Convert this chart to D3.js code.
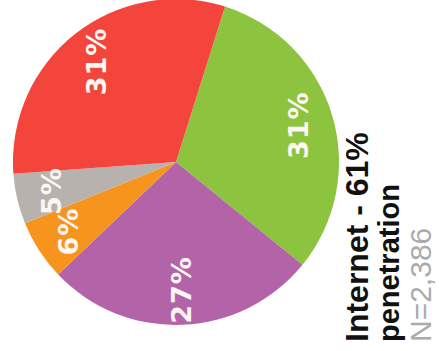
<!DOCTYPE html>
<html>
<head>
<meta charset="utf-8">
<script src="https://cdn.jsdelivr.net/npm/d3@7"></script>
<style>
  html, body { margin: 0; padding: 0; background: #ffffff; }
  svg { display: block; }
</style>
</head>
<body>
<svg id="chart" width="439" height="351"></svg>
<script>
// Share of respondents by segment (percent)
const segments = ["Green", "Purple", "Orange", "Grey", "Red"];
const shares = [31, 27, 6, 5, 31];
const sliceColors = ["#8cc43f", "#b364a8", "#f7941d", "#b7b2ad", "#f3453c"];

// Title block
const titleLines = ["Internet - 61%", "penetration", "N=2,386"];

const svg = d3.select("#chart");

const cx = 176, cy = 162, radius = 163;
const start = 17.5 * Math.PI / 180;

const pie = d3.pie()
  .value(d => d.value)
  .sort(null)
  .startAngle(start)
  .endAngle(start + 2 * Math.PI);

const data = segments.map((s, i) => ({ name: s, value: shares[i], color: sliceColors[i] }));
const arcs = pie(data);

const arc = d3.arc().innerRadius(0).outerRadius(radius);
const labelArc = d3.arc().innerRadius(128).outerRadius(128);

const g = svg.append("g").attr("transform", `translate(${cx},${cy})`);

g.selectAll("path.slice")
  .data(arcs)
  .join("path")
  .attr("class", "slice")
  .attr("d", arc)
  .attr("fill", d => d.data.color);

// Percentage labels, set sideways like the title
g.selectAll("text.pct")
  .data(arcs)
  .join("text")
  .attr("class", "pct")
  .attr("transform", d => {
    const [x, y] = labelArc.centroid(d);
    return `translate(${x},${y}) rotate(-90)`;
  })
  .attr("text-anchor", "middle")
  .attr("dominant-baseline", "central")
  .attr("font-family", "'DejaVu Sans', sans-serif")
  .attr("font-weight", "bold")
  .attr("font-size", 27)
  .attr("letter-spacing", 1)
  .attr("fill", "#fdf6f2")
  .text(d => d.data.value + "%");

// Title block, reading bottom to top
const titleStyles = [
  { x: 368, size: 32, weight: "bold", color: "#111111" },
  { x: 399, size: 29, weight: "bold", color: "#111111" },
  { x: 431, size: 30, weight: "normal", color: "#ababab" }
];

svg.selectAll("text.title")
  .data(titleLines)
  .join("text")
  .attr("class", "title")
  .attr("transform", (d, i) => `translate(${titleStyles[i].x},342) rotate(-90)`)
  .attr("text-anchor", "start")
  .attr("font-family", "'Liberation Sans', Arial, sans-serif")
  .attr("font-weight", (d, i) => titleStyles[i].weight)
  .attr("font-size", (d, i) => titleStyles[i].size)
  .attr("fill", (d, i) => titleStyles[i].color)
  .text(d => d);
</script>
</body>
</html>
